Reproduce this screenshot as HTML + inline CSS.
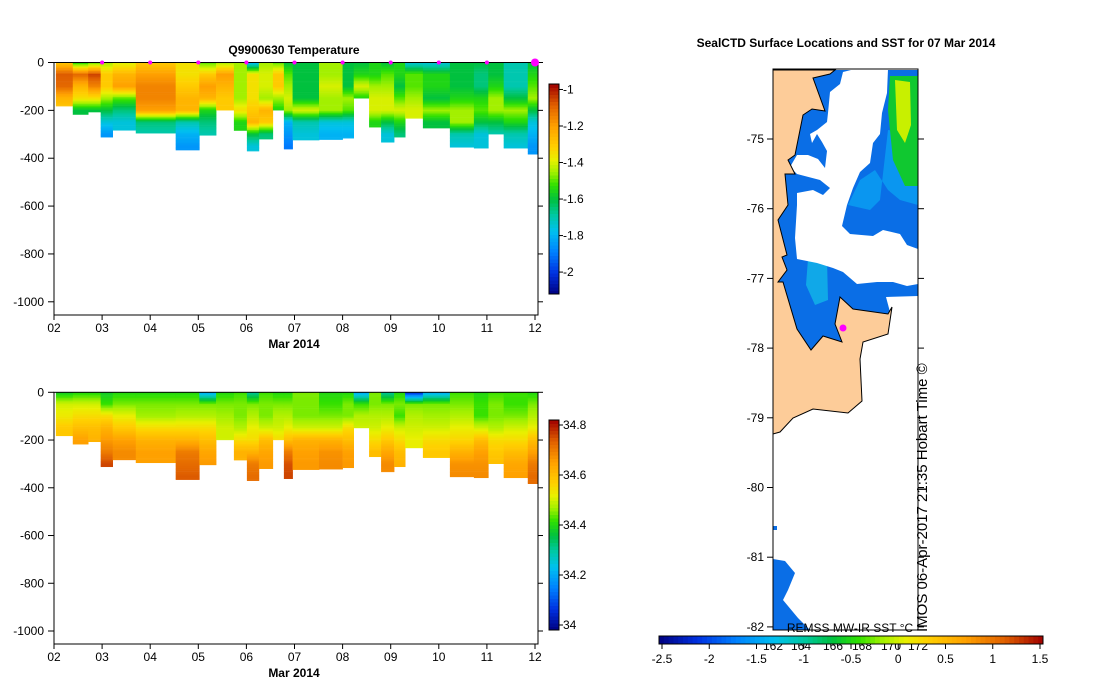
<!DOCTYPE html>
<html><head><meta charset="utf-8"><style>
body{margin:0;background:#fff;}
svg{display:block;font-family:"Liberation Sans",sans-serif;}
</style></head><body>
<svg id="s" width="1099" height="700" viewBox="0 0 1099 700" xmlns="http://www.w3.org/2000/svg">
<g id="map">
<text x="846" y="47" text-anchor="middle" font-size="12" font-weight="bold">SealCTD Surface Locations and SST for 07 Mar 2014</text>
<rect x="773" y="69" width="145" height="561" fill="#fff"/>
<polygon fill="#0a6ee6" points="835,70 918,70 918,303 892,307 888,314 853,309 840,297 835,324 842,342 823,336 811,350 797,329 783,282 778,282 787,270 782,257 787,255 778,220 788,205 785,174 795,174 788,160 795,155 803,115 812,109 825,111 813,78 830,74"/>
<polygon fill="#0a96f0" points="888,130 918,134 918,205 900,200 888,190 875,170 860,180 848,205 870,210 880,200"/>
<polygon fill="#10a8e8" points="808,259 827,259 828,300 815,305 806,285"/>
<polygon fill="#10c830" points="890,76 918,76 918,186 905,186 893,160 888,110"/>
<polygon fill="#c8f000" points="895,80 910,82 911,125 905,143 897,130"/>
<polygon fill="#fff" points="855,69 888,69 887,93 882,113 880,134 873,143 870,163 860,172 853,188 847,205 842,226 850,234 873,236 883,230 900,234 907,245 918,249 918,284 907,286 893,282 877,282 857,284 843,272 833,268 817,263 807,261 797,259 795,238 797,205 797,193 813,190 823,195 830,188 820,180 797,174 790,167 797,155 808,155 818,159 825,168 827,151 822,142 817,134 812,143 810,134 817,130 827,122 828,113 830,92 840,84 843,72"/>
<polygon fill="#fff" points="886,297 918,296 918,310 890,312"/>
<polygon fill="#fdcc99" stroke="#000" stroke-width="1" points="773,70 835,70 830,74 813,78 825,111 812,109 803,115 795,155 788,160 795,174 785,174 788,205 778,220 787,255 782,257 787,270 778,282 783,282 797,329 811,350 823,336 842,342 835,324 840,297 853,309 888,314 892,307 888,334 863,342 860,359 862,401 848,413 813,409 793,418 780,432 773,434"/>
<polygon fill="#0a6ee6" points="773,559 785,561 795,573 788,590 783,600 798,618 810,630 773,630"/>
<rect x="773" y="526" width="4" height="4" fill="#0a6ee6"/>
<circle cx="843" cy="328" r="3.5" fill="#ff00ff"/>
<rect x="773" y="69" width="145" height="561" fill="none" stroke="#000"/>
<g id="latTicks"></g>
<text x="850" y="632" text-anchor="middle" font-size="12">REMSS MW-IR SST °C</text>
<g font-size="12"><text x="773" y="650" text-anchor="middle">162</text><text x="801" y="650" text-anchor="middle">164</text><text x="833" y="650" text-anchor="middle">166</text><text x="862" y="650" text-anchor="middle">168</text><text x="891" y="650" text-anchor="middle">170</text><text x="918" y="650" text-anchor="middle">172</text></g>
<text transform="translate(927,632) rotate(-90)" font-size="15">IMOS 06-Apr-2017 21:35 Hobart Time ©</text>
<g id="sstbar"></g>
</g>
<g id="p1"></g>
<g id="p2"></g>
</svg>
<script>
const dayStarts=[2.04,2.39,2.71,2.97,3.22,3.70,4.53,5.02,5.37,5.74,6.01,6.26,6.55,6.78,6.96,7.51,8.00,8.23,8.55,8.80,9.07,9.30,9.67,10.23,10.73,11.03,11.35,11.85];
const dayEnd=12.06;
const maxDepth=[182,217,207,312,283,295,366,304,199,284,370,320,199,362,324,322,316,149,270,333,312,233,274,354,358,299,358,383];
const depthLevels=[0,50,100,150,200,250,300,350,400];
const tempProfiles=[
[-1.3,-1.08,-1.1,-1.25,-1.3],[-1.55,-1.1,-1.25,-1.35,-1.6],[-1.5,-1.05,-1.15,-1.35,-1.6],
[-1.45,-1.3,-1.3,-1.45,-1.6,-1.75,-1.85],[-1.4,-1.25,-1.2,-1.5,-1.65,-1.75],[-1.3,-1.2,-1.15,-1.15,-1.2,-1.65,-1.7],
[-1.35,-1.35,-1.3,-1.25,-1.25,-1.7,-1.8,-1.85],[-1.5,-1.3,-1.2,-1.25,-1.55,-1.65,-1.7],[-1.45,-1.2,-1.25,-1.3,-1.3],
[-1.45,-1.45,-1.45,-1.45,-1.35,-1.55],[-1.8,-1.35,-1.35,-1.35,-1.3,-1.25,-1.6,-1.75],[-1.45,-1.4,-1.4,-1.45,-1.25,-1.3,-1.65],
[-1.5,-1.3,-1.3,-1.45,-1.55],[-1.6,-1.5,-1.45,-1.4,-1.45,-1.8,-1.85,-1.9],[-1.6,-1.6,-1.6,-1.6,-1.4,-1.7,-1.75],
[-1.45,-1.45,-1.4,-1.45,-1.45,-1.75,-1.8],[-1.6,-1.6,-1.6,-1.45,-1.5,-1.75,-1.8],[-1.6,-1.55,-1.4,-1.55],
[-1.55,-1.55,-1.45,-1.4,-1.4,-1.55],[-1.6,-1.5,-1.45,-1.4,-1.4,-1.6,-1.75],[-1.55,-1.55,-1.6,-1.5,-1.4,-1.55,-1.65],
[-1.75,-1.5,-1.5,-1.45,-1.4],[-1.75,-1.55,-1.55,-1.6,-1.45,-1.6],[-1.6,-1.6,-1.6,-1.55,-1.45,-1.45,-1.7,-1.75],
[-1.6,-1.65,-1.65,-1.55,-1.5,-1.6,-1.75,-1.75],[-1.6,-1.6,-1.55,-1.45,-1.45,-1.6,-1.7],[-1.7,-1.7,-1.7,-1.6,-1.45,-1.55,-1.7,-1.75],
[-1.6,-1.55,-1.5,-1.45,-1.6,-1.75,-1.8,-1.85]];
const salProfiles=[
[34.38,34.5,34.53,34.58],[34.4,34.5,34.55,34.6,34.65],[34.4,34.5,34.55,34.6,34.62],
[34.38,34.42,34.55,34.62,34.66,34.7,34.76],[34.4,34.45,34.52,34.58,34.65,34.68],[34.4,34.45,34.47,34.55,34.62,34.65],
[34.4,34.45,34.48,34.55,34.62,34.7,34.72,34.74],[34.2,34.45,34.48,34.55,34.6,34.64,34.66],[34.4,34.45,34.47,34.5,34.5],
[34.42,34.45,34.45,34.48,34.55,34.62],[34.3,34.45,34.48,34.52,34.55,34.62,34.7,34.72],[34.42,34.45,34.45,34.5,34.6,34.64,34.66],
[34.4,34.45,34.48,34.5,34.55],[34.4,34.45,34.48,34.52,34.6,34.7,34.75,34.76],[34.45,34.45,34.45,34.5,34.62,34.65,34.66],
[34.4,34.42,34.45,34.5,34.62,34.67,34.68],[34.4,34.45,34.45,34.55,34.6,34.65,34.66],[34.2,34.42,34.48,34.5],
[34.45,34.45,34.48,34.5,34.55,34.6],[34.3,34.45,34.48,34.52,34.58,34.64,34.68],[34.4,34.45,34.42,34.5,34.55,34.6,34.62],
[34.05,34.45,34.48,34.5,34.52],[34.2,34.45,34.47,34.5,34.55,34.58],[34.42,34.45,34.48,34.52,34.56,34.62,34.67,34.68],
[34.4,34.42,34.42,34.5,34.6,34.65,34.67,34.68],[34.42,34.45,34.45,34.48,34.55,34.58,34.6],[34.42,34.42,34.45,34.5,34.55,34.6,34.64,34.65],
[34.4,34.45,34.48,34.52,34.6,34.65,34.7,34.72]];
const xTickLabels=["02","03","04","05","06","07","08","09","10","11","12"];
const yTickValues=[0,-200,-400,-600,-800,-1000];
const tempTicks=[-1,-1.2,-1.4,-1.6,-1.8,-2];
const salTicks=[34.8,34.6,34.4,34.2,34];
const latTicks=[-75,-76,-77,-78,-79,-80,-81,-82];
const sstTicks=[-2.5,-2,-1.5,-1,-0.5,0,0.5,1,1.5];
const markerDays=[3,4,5,6,7,8,9,10,11,12];

const NS="http://www.w3.org/2000/svg";
function mk(tag,attrs,parent){const e=document.createElementNS(NS,tag);for(const k in attrs)e.setAttribute(k,attrs[k]);parent.appendChild(e);return e;}
const stops=[[0,[0,0,128]],[0.1,[0,48,224]],[0.2,[0,128,255]],[0.3,[0,192,240]],[0.38,[0,200,160]],[0.45,[0,192,64]],[0.52,[48,224,0]],[0.58,[160,240,0]],[0.64,[232,240,0]],[0.7,[255,208,0]],[0.8,[255,160,0]],[0.9,[224,96,0]],[1,[160,0,0]]];
function cmap(f){f=Math.max(0,Math.min(1,f));for(let i=1;i<stops.length;i++){if(f<=stops[i][0]){const a=stops[i-1],b=stops[i];const t=(f-a[0])/(b[0]-a[0]);const c=a[1].map((v,j)=>Math.round(v+(b[1][j]-v)*t));return `rgb(${c})`;}}return 'rgb(160,0,0)';}
function interp(prof,d){const i=Math.min(Math.floor(d/50),prof.length-1);if(i>=prof.length-1)return prof[prof.length-1];const t=(d-i*50)/50;return prof[i]+(prof[i+1]-prof[i])*t;}

function panel(g,y0,pxPerM,bottom,profiles,vmin,vmax,ticks,cbTop,cbBot,title,fmt,name){
  const X=d=>54+(d-2)*48.1, Y=m=>y0-m*pxPerM;
  const heat=mk('g',{},g);
  
  
  for(let c=0;c<dayStarts.length;c++){
    const x1=X(dayStarts[c]),x2=X(c+1<dayStarts.length?dayStarts[c+1]:dayEnd);
    for(let d=0;d<maxDepth[c];d+=6){
      const dd=Math.min(6,maxDepth[c]-d);
      const v=interp(profiles[c],d+dd/2);
      const r=mk('rect',{x:x1.toFixed(1),y:Y(-d).toFixed(1),width:(x2-x1+0.3).toFixed(1),height:(dd*pxPerM+0.3).toFixed(2),fill:cmap((v-vmin)/(vmax-vmin))},heat);
      
      
    }
  }
  const fr=mk('rect',{x:54,y:y0,width:484,height:bottom-y0,fill:'none',stroke:'#000'},g);
  
  
  xTickLabels.forEach((l,i)=>{const x=X(2+i);mk('line',{x1:x,x2:x,y1:bottom,y2:bottom+5,stroke:'#000'},g);
    const t=mk('text',{x:x,y:bottom+17,'text-anchor':'middle','font-size':12},g);t.textContent=l;
    
    });
  yTickValues.forEach(v=>{const y=Y(v);mk('line',{x1:48,x2:54,y1:y,y2:y,stroke:'#000'},g);mk('line',{x1:538,x2:543,y1:y,y2:y,stroke:'#000'},g);
    const t=mk('text',{x:44,y:y+4,'text-anchor':'end','font-size':12},g);t.textContent=v;
    
    });
  const xl=mk('text',{x:294,y:bottom+33,'text-anchor':'middle','font-size':12,'font-weight':'bold'},g);xl.textContent='Mar 2014';
  
  
  if(title){const t=mk('text',{x:294,y:54,'text-anchor':'middle','font-size':12,'font-weight':'bold'},g);t.textContent=title;
    
    }
  const cb=mk('g',{},g);
  
  
  const n=60;for(let i=0;i<n;i++){const h=(cbBot-cbTop)/n;mk('rect',{x:549,y:cbBot-(i+1)*h,width:10,height:h+0.5,fill:cmap((i+0.5)/n)},cb);}
  mk('rect',{x:549,y:cbTop,width:10,height:cbBot-cbTop,fill:'none',stroke:'#000'},cb);
  ticks.forEach(v=>{const y=cbBot-(v-vmin)/(vmax-vmin)*(cbBot-cbTop);mk('line',{x1:559,x2:563,y1:y,y2:y,stroke:'#000'},cb);
    const t=mk('text',{x:563,y:y+4,'font-size':12},cb);t.textContent=fmt(v);
    
    });
  return X;
}
const X1=panel(document.getElementById('p1'),62.5,0.2393,315,tempProfiles,-2.12,-0.97,tempTicks,84,294,'Q9900630  Temperature',v=>String(v),'temperature');
panel(document.getElementById('p2'),392.3,0.2387,644,salProfiles,33.98,34.82,salTicks,420,630,null,v=>String(v),'salinity');
const p1=document.getElementById('p1');
markerDays.forEach((d,i)=>{const m=mk('circle',{cx:X1(d),cy:62.5,r:i==markerDays.length-1?4:2,fill:'#ff00ff'},p1);
  
  });
const lt=document.getElementById('latTicks');
latTicks.forEach(v=>{const y=139+(-75-v)*69.7;mk('line',{x1:767,x2:773,y1:y,y2:y,stroke:'#000'},lt);mk('line',{x1:918,x2:924,y1:y,y2:y,stroke:'#000'},lt);
  const t=mk('text',{x:764,y:y+4,'text-anchor':'end','font-size':12},lt);t.textContent=v;
  
  });
const sb=document.getElementById('sstbar');
const sx=v=>662+(v+2.5)*94.5;
for(let i=0;i<80;i++){const w=(1043-659)/80;mk('rect',{x:659+i*w,y:636,width:w+0.5,height:8,fill:cmap((i+0.5)/80)},sb);}
mk('rect',{x:659,y:636,width:384,height:8,fill:'none',stroke:'#000'},sb);
sstTicks.forEach(v=>{const x=sx(v);mk('line',{x1:x,x2:x,y1:644,y2:649,stroke:'#000'},sb);
  const t=mk('text',{x:x,y:663,'text-anchor':'middle','font-size':12},sb);t.textContent=v;
  
  });
</script>
</body></html>
